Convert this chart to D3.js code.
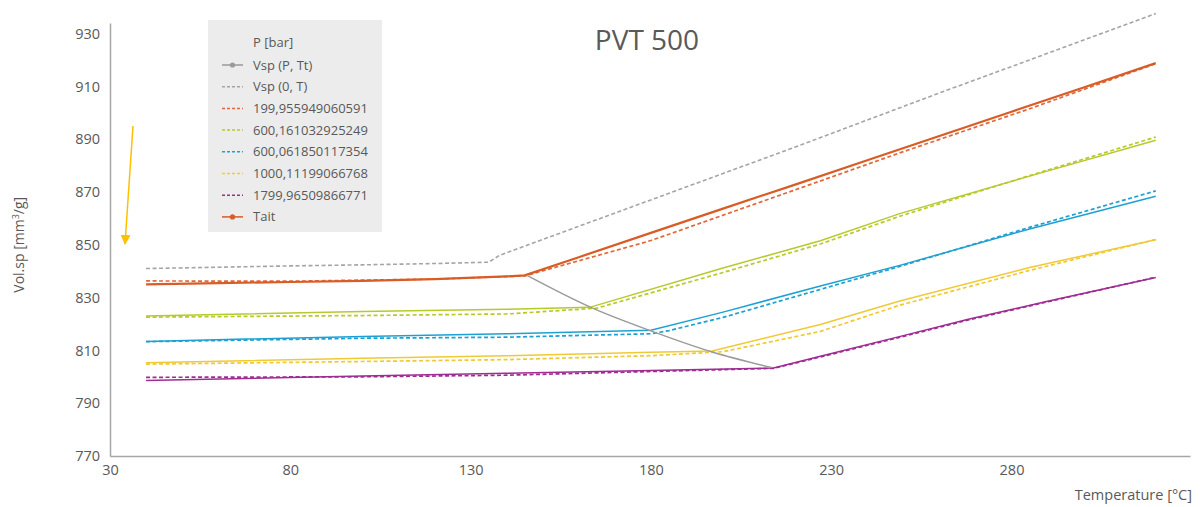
<!DOCTYPE html>
<html>
<head>
<meta charset="utf-8">
<script src="https://cdn.jsdelivr.net/npm/d3@7"></script>
<style>
  body { margin: 0; background: #fff; }
  text { font-family: "Open Sans", "Noto Sans", sans-serif; fill: #595959; }
</style>
</head>
<body>
<div id="chart"></div>
<script>
// ---- data ----
var xTicks = [30, 80, 130, 180, 230, 280];
var yTicks = [770, 790, 810, 830, 850, 870, 890, 910, 930];

// Vsp (0, T)
var vsp0T = [
  [40, 841.0], [60, 841.5], [80, 842.0], [100, 842.4], [120, 842.9], [135, 843.4],
  [138, 846.0], [150, 852.0], [180, 867.0], [220, 887.0], [260, 907.5], [290, 922.5], [320, 937.6]
];
// Vsp (P, Tt) : transition points
var vspPTt = [[145.5, 838.5], [163.5, 826.2], [180, 817.4], [197, 809.4], [213.5, 803.5]];

var pLabels = ["199,955949060591", "600,161032925249", "600,061850117354", "1000,11199066768", "1799,96509866771"];
var pColors = ["#e0683a", "#b8c92c", "#1ea1d2", "#f1c935", "#a02c93"];

// measured (dashed)
var meas199 = [[40, 836.3], [80, 836.2], [120, 837.0], [145, 838.2], [180, 851.6], [220, 870.8], [249, 884.8], [285, 901.5], [320, 918.6]];
var meas600a = [[40, 822.6], [100, 823.2], [140, 823.8], [165, 826.0], [200, 839.5], [227, 850.3], [249, 860.8], [285, 876.2], [320, 890.8]];
var meas600b = [[40, 813.3], [100, 814.6], [140, 815.0], [180, 816.3], [185, 817.5], [200, 822.5], [227, 833.1], [249, 841.8], [285, 856.6], [320, 870.4]];
var meas1000 = [[40, 804.8], [100, 805.8], [140, 806.5], [180, 808.0], [200, 809.5], [227, 817.2], [249, 827.1], [285, 840.3], [320, 852.0]];
var meas1800 = [[40, 799.8], [100, 800.0], [140, 800.6], [180, 802.0], [214, 803.2], [227, 807.5], [250, 815.3], [268, 821.5], [290, 828.4], [320, 837.7]];

// Tait fits (solid)
var tait199 = [[40, 835.0], [60, 835.5], [80, 835.9], [100, 836.3], [120, 837.0], [140, 838.0], [145, 838.4],
  [160, 845.3], [180, 854.5], [200, 863.7], [220, 872.8], [240, 882.0], [260, 891.2], [280, 900.4], [300, 909.6], [320, 918.8]];
var tait600a = [[40, 823.0], [100, 824.7], [140, 825.6], [163, 826.3], [200, 841.2], [227, 851.5], [249, 861.8], [285, 876.0], [320, 889.6]];
var tait600b = [[40, 813.4], [100, 815.3], [140, 816.3], [180, 817.6], [200, 824.5], [227, 834.4], [249, 842.2], [285, 856.0], [320, 868.4]];
var tait1000 = [[40, 805.3], [100, 807.0], [140, 808.0], [180, 809.3], [197, 809.8], [227, 819.8], [249, 828.7], [285, 841.4], [320, 851.9]];
var tait1800 = [[40, 798.6], [100, 800.3], [140, 801.3], [180, 802.4], [214, 803.3], [227, 807.8], [250, 815.6], [268, 821.8], [290, 828.6], [320, 837.6]];

var measured = [meas199, meas600a, meas600b, meas1000, meas1800];
var tait = [tait199, tait600a, tait600b, tait1000, tait1800];

// ---- chart ----
var W = 1200, H = 507;
var margin = {top: 23, right: 10, bottom: 51, left: 110};

var svg = d3.select("#chart").append("svg")
    .attr("width", W)
    .attr("height", H);

var x = d3.scaleLinear().domain([30, 329.5]).range([margin.left, 1190]);
var y = d3.scaleLinear().domain([770, 934]).range([H - margin.bottom, margin.top]);

var line = d3.line()
    .x(function (d) { return x(d[0]); })
    .y(function (d) { return y(d[1]); });

// axes
var yAxis = svg.append("g")
    .attr("transform", "translate(" + margin.left + ",0)")
    .call(d3.axisLeft(y).tickValues(yTicks).tickSize(0).tickSizeOuter(0).tickPadding(10));
var xAxis = svg.append("g")
    .attr("transform", "translate(0," + (H - margin.bottom) + ")")
    .call(d3.axisBottom(x).tickValues(xTicks).tickSize(0).tickSizeOuter(0).tickPadding(9));

[xAxis, yAxis].forEach(function (a) {
    a.select(".domain").attr("stroke", "#a6a6a6").attr("stroke-width", 1.5);
    a.selectAll("text").attr("font-size", 14.5).attr("fill", "#595959")
        .style("font-family", '"Open Sans", sans-serif');
});

svg.append("text")
    .attr("transform", "translate(24," + y(850) + ") rotate(-90)")
    .attr("text-anchor", "middle")
    .attr("font-size", 14)
    .html("Vol.sp [mm<tspan dy='-5' font-size='9'>3</tspan><tspan dy='5'>/g]</tspan>");

svg.append("text")
    .attr("x", 1192).attr("y", 500)
    .attr("text-anchor", "end")
    .attr("font-size", 14.5)
    .text("Temperature [°C]");

svg.append("text")
    .attr("x", 647).attr("y", 50)
    .attr("text-anchor", "middle")
    .attr("font-size", 28)
    .text("PVT 500");

// series
svg.append("path").datum(vsp0T)
    .attr("d", line).attr("fill", "none")
    .attr("stroke", "#a5a5a5").attr("stroke-width", 1.6).attr("stroke-dasharray", "4,2.5");

measured.forEach(function (s, i) {
    svg.append("path").datum(s)
        .attr("d", line).attr("fill", "none")
        .attr("stroke", pColors[i]).attr("stroke-width", 1.7).attr("stroke-dasharray", "4,2.5");
});

tait.forEach(function (s, i) {
    svg.append("path").datum(s)
        .attr("d", line).attr("fill", "none")
        .attr("stroke", i === 0 ? "#d95b25" : pColors[i])
        .attr("stroke-width", i === 0 ? 2.2 : 1.5);
});

svg.append("path").datum(vspPTt)
    .attr("d", line.curve(d3.curveMonotoneX)).attr("fill", "none")
    .attr("stroke", "#9a9a9a").attr("stroke-width", 1.4);
line.curve(d3.curveLinear);

// arrow
svg.append("defs").append("marker")
    .attr("id", "head").attr("viewBox", "0 0 10 10")
    .attr("refX", 9).attr("refY", 5)
    .attr("markerWidth", 10).attr("markerHeight", 10)
    .attr("markerUnits", "userSpaceOnUse")
    .attr("orient", "auto")
    .append("path").attr("d", "M0,0 L10,5 L0,10 Z").attr("fill", "#ffc000");
svg.append("line")
    .attr("x1", 133).attr("y1", 126).attr("x2", 125).attr("y2", 244)
    .attr("stroke", "#ffc000").attr("stroke-width", 1.5)
    .attr("marker-end", "url(#head)");

// legend
var legItems = [{label: "Vsp (P, Tt)", color: "#9a9a9a", dash: null, dot: true},
                {label: "Vsp (0, T)", color: "#a5a5a5", dash: "3,2", dot: false}];
pLabels.forEach(function (l, i) {
    legItems.push({label: l, color: pColors[i], dash: "3,2", dot: false});
});
legItems.push({label: "Tait", color: "#d95b25", dash: null, dot: true});

var leg = svg.append("g").attr("transform", "translate(208,20)");
leg.append("rect").attr("width", 174).attr("height", 212).attr("fill", "#ececec");
leg.append("text").attr("x", 45).attr("y", 26.5).attr("font-size", 13).text("P [bar]");

var rows = leg.selectAll("g.row").data(legItems).enter().append("g")
    .attr("transform", function (d, i) { return "translate(0," + (45 + i * 21.7) + ")"; });
rows.append("line")
    .attr("x1", 14).attr("x2", 35).attr("y1", 0).attr("y2", 0)
    .attr("stroke", function (d) { return d.color; })
    .attr("stroke-width", 1.5)
    .attr("stroke-dasharray", function (d) { return d.dash; });
rows.filter(function (d) { return d.dot; }).append("circle")
    .attr("cx", 24.5).attr("cy", 0).attr("r", 2.6)
    .attr("fill", function (d) { return d.color; });
rows.append("text")
    .attr("x", 45).attr("y", 4.5)
    .attr("font-size", 13)
    .text(function (d) { return d.label; });
</script>
</body>
</html>
